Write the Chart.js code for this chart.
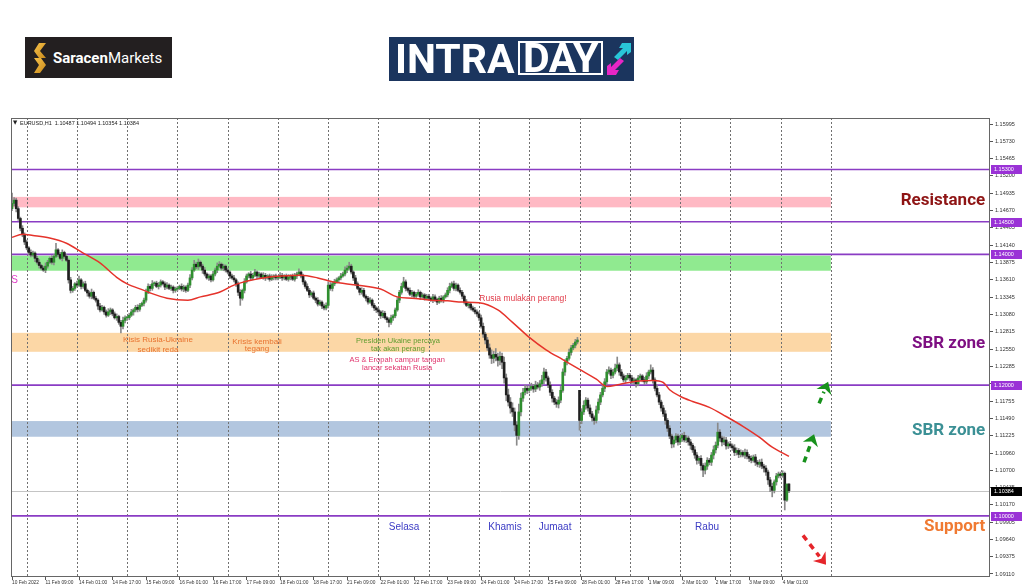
<!DOCTYPE html>
<html>
<head>
<meta charset="utf-8">
<script src="https://cdn.jsdelivr.net/npm/chart.js@4.4.0/dist/chart.umd.min.js"></script>
<style>
  html, body { margin:0; padding:0; background:#fff; width:1024px; height:587px; overflow:hidden; }
  #wrap { position:relative; width:1024px; height:587px; }
  #chart { position:absolute; left:0; top:0; }
  #saracen { position:absolute; left:25px; top:37px; width:147px; height:41px; background:#231f20;
             display:flex; align-items:center; box-sizing:border-box; padding-left:9px;
             font-family:Roboto, sans-serif; font-size:15px; color:#fff; }
  #saracen svg { margin-right:7px; }
  #saracen b { font-weight:700; }
  #intraday { position:absolute; left:389px; top:37px; width:245px; height:44px; background:#1b355e;
              font-family:Roboto, sans-serif; font-weight:700; color:#fff; }
  #intraday .intra { position:absolute; left:6px; top:0; font-size:41px; line-height:44px; letter-spacing:0px; }
  #intraday .day { position:absolute; left:129px; top:4px; height:34px; width:85px; box-sizing:border-box;
                   border:2.5px solid #fff; font-size:41px; line-height:31px; text-align:center; letter-spacing:-0.5px; }
  #intraday svg { position:absolute; left:217px; top:3px; }
</style>
</head>
<body>
<div id="wrap">
  <canvas id="chart" width="1024" height="587"></canvas>
  <div id="saracen">
    <svg width="12" height="30" viewBox="0 0 12 30">
      <defs><linearGradient id="gold" x1="0" y1="0" x2="1" y2="1">
        <stop offset="0" stop-color="#f7c24a"/><stop offset="1" stop-color="#c98a1c"/></linearGradient></defs>
      <polygon points="5,0 12,0 6,8 12,15 5,15 0,8" fill="url(#gold)"/>
      <polygon points="0,15 7,15 12,22 6,30 0,30 5,22" fill="url(#gold)"/>
    </svg>
    <b>Saracen</b><span>Markets</span>
  </div>
  <div id="intraday">
    <span class="intra">INTRA</span><span class="day">DAY</span>
    <svg width="26" height="38" viewBox="0 0 26 38">
      <polygon points="8,17 17,8 13,8 16,3 25,3 25,12 21,15 21,11 12,20" fill="#29c6d8"/>
      <polygon points="18,21 9,30 13,30 10,35 1,35 1,26 5,23 5,27 14,18" fill="#e726c6"/>
    </svg>
  </div>
</div>
<script>
// EURUSD H1, 10 Feb 17:00 -> 4 Mar 03:00 (2022), one entry per hourly bar
const closes = [
  1.1478, 1.1483, 1.1470, 1.1455, 1.1440, 1.1430, 1.1419,
  1.1410, 1.1403, 1.1399, 1.1402, 1.1394, 1.1388, 1.1383, 1.1379, 1.1376, 1.1382, 1.1388, 1.1394, 1.1388, 1.1397, 1.1407, 1.1400, 1.1394, 1.1403, 1.1397, 1.1391, 1.1361, 1.1345, 1.1348, 1.1355,
  1.1353, 1.1361, 1.1351, 1.1355, 1.1345, 1.1341, 1.1336, 1.1342, 1.1333, 1.1330, 1.1321, 1.1315, 1.1319, 1.1312, 1.1307, 1.1312, 1.1315, 1.1309, 1.1303, 1.1305, 1.1296, 1.1290, 1.1299, 1.1303,
  1.1303, 1.1307, 1.1312, 1.1315, 1.1319, 1.1316, 1.1322, 1.1325, 1.1330, 1.1342, 1.1351, 1.1348, 1.1355, 1.1356, 1.1351, 1.1353, 1.1358, 1.1355, 1.1350, 1.1353, 1.1348, 1.1350, 1.1345, 1.1347,
  1.1348, 1.1351, 1.1347, 1.1350, 1.1345, 1.1353, 1.1364, 1.1376, 1.1385, 1.1381, 1.1388, 1.1382, 1.1376, 1.1370, 1.1364, 1.1367, 1.1361, 1.1370, 1.1376, 1.1382, 1.1385, 1.1379, 1.1382, 1.1376,
  1.1373, 1.1367, 1.1364, 1.1361, 1.1355, 1.1342, 1.1333, 1.1345, 1.1358, 1.1367, 1.1370, 1.1364, 1.1368, 1.1373, 1.1367, 1.1370, 1.1365, 1.1368, 1.1364, 1.1367, 1.1362, 1.1365, 1.1367, 1.1364,
  1.1365, 1.1368, 1.1364, 1.1367, 1.1362, 1.1365, 1.1367, 1.1362, 1.1367, 1.1370, 1.1373, 1.1367, 1.1358, 1.1351, 1.1345, 1.1338, 1.1341, 1.1333, 1.1330, 1.1324, 1.1327, 1.1321, 1.1318, 1.1322,
  1.1353, 1.1348, 1.1355, 1.1358, 1.1361, 1.1364, 1.1367, 1.1370, 1.1376, 1.1379, 1.1382, 1.1373, 1.1364, 1.1355, 1.1348, 1.1342, 1.1345, 1.1336, 1.1333, 1.1327, 1.1330, 1.1322, 1.1318, 1.1315,
  1.1312, 1.1306, 1.1310, 1.1303, 1.1300, 1.1296, 1.1303, 1.1306, 1.1315, 1.1330, 1.1342, 1.1351, 1.1358, 1.1348, 1.1345, 1.1339, 1.1342, 1.1336, 1.1339, 1.1342, 1.1335, 1.1338, 1.1333, 1.1336,
  1.1333, 1.1330, 1.1335, 1.1331, 1.1327, 1.1333, 1.1330, 1.1335, 1.1338, 1.1345, 1.1351, 1.1355, 1.1348, 1.1353, 1.1345, 1.1342, 1.1336, 1.1327, 1.1322, 1.1324, 1.1318, 1.1315, 1.1312, 1.1309,
  1.1303, 1.1290, 1.1278, 1.1269, 1.1257, 1.1246, 1.1241, 1.1247, 1.1243, 1.1238, 1.1244, 1.1235, 1.1211, 1.1185, 1.1174, 1.1165, 1.1159, 1.1139, 1.1123, 1.1159, 1.1180, 1.1189, 1.1195, 1.1192,
  1.1195, 1.1198, 1.1194, 1.1200, 1.1197, 1.1202, 1.1208, 1.1220, 1.1211, 1.1200, 1.1189, 1.1180, 1.1174, 1.1171, 1.1177, 1.1192, 1.1220, 1.1235, 1.1241, 1.1250, 1.1257, 1.1261, 1.1266, 1.1269,
  1.1146, 1.1159, 1.1169, 1.1177, 1.1165, 1.1156, 1.1150, 1.1146, 1.1162, 1.1174, 1.1185, 1.1195, 1.1205, 1.1220, 1.1223, 1.1215, 1.1220, 1.1226, 1.1231, 1.1220, 1.1214, 1.1208, 1.1211, 1.1215,
  1.1211, 1.1205, 1.1208, 1.1202, 1.1211, 1.1214, 1.1208, 1.1205, 1.1214, 1.1220, 1.1223, 1.1208, 1.1195, 1.1185, 1.1174, 1.1165, 1.1156, 1.1146, 1.1134, 1.1122, 1.1110, 1.1116, 1.1122, 1.1113,
  1.1119, 1.1123, 1.1116, 1.1119, 1.1113, 1.1108, 1.1101, 1.1093, 1.1085, 1.1088, 1.1077, 1.1070, 1.1076, 1.1085, 1.1082, 1.1093, 1.1101, 1.1108, 1.1128, 1.1119, 1.1113, 1.1116, 1.1107, 1.1110,
  1.1107, 1.1104, 1.1097, 1.1100, 1.1094, 1.1097, 1.1093, 1.1097, 1.1091, 1.1088, 1.1085, 1.1090, 1.1082, 1.1079, 1.1082, 1.1076, 1.1073, 1.1067, 1.1055, 1.1045, 1.1039, 1.1052, 1.1061, 1.1064,
  1.1062, 1.1065, 1.1024, 1.10487, 1.10384
];
// upper / lower shadow length of each bar, in pips
const wickUp = [
  16,4,3,3,2,4,3,
  3,2,4,3,2,3,4,2,3,5,3,2,4,3,10,2,3,4,2,3,2,4,3,2,
  4,6,2,3,4,2,3,5,2,3,2,4,3,2,3,5,3,2,3,4,2,3,5,3,
  2,3,4,2,3,4,3,2,3,5,4,3,5,2,3,4,3,2,3,4,2,3,2,3,
  3,2,4,3,2,3,5,4,6,3,5,2,3,4,2,3,2,4,3,5,4,2,3,2,
  3,2,3,4,2,3,4,2,5,3,2,4,3,4,2,3,2,4,3,2,3,4,2,3,
  2,4,3,2,3,4,2,3,4,3,5,2,3,2,4,3,2,3,2,4,3,2,3,4,
  5,4,3,4,3,2,4,3,5,4,6,3,2,4,3,2,4,3,2,3,4,2,3,2,
  3,2,4,3,2,3,4,2,3,4,3,5,7,3,2,4,3,2,3,4,2,3,2,3,
  3,2,4,3,2,3,4,2,3,4,5,3,4,3,2,4,3,2,4,3,2,3,4,3,
  3,4,5,3,4,6,8,5,9,6,7,5,8,6,9,7,8,6,5,12,8,6,5,4,
  4,5,3,6,4,5,7,6,4,3,5,4,3,4,5,6,5,4,3,5,4,3,4,4,
  0,5,7,4,3,5,4,3,6,5,4,6,5,4,5,3,4,6,12,3,4,3,4,3,
  3,4,3,2,4,3,2,4,5,3,8,4,3,5,4,3,4,5,3,4,3,5,4,3,
  4,3,5,4,3,4,3,5,4,3,4,3,5,4,3,4,6,5,14,4,3,5,4,3,
  4,3,5,4,3,4,3,5,4,3,4,3,4,3,4,5,3,4,3,4,5,3,4,3,
  3,4,2,0,0.7
];
const wickDn = [
  3,4,5,3,4,3,4,
  3,4,3,2,5,3,4,3,2,4,3,2,3,4,2,3,2,4,3,2,5,4,3,3,
  3,2,4,3,2,5,3,4,2,3,5,3,2,4,3,2,4,3,2,4,3,10,4,4,
  4,3,2,5,3,4,3,2,4,3,2,4,3,3,2,4,3,2,4,3,2,3,4,3,
  3,2,3,4,3,2,4,3,2,3,4,2,5,3,2,4,3,2,3,4,2,3,4,3,
  3,4,2,3,4,5,11,3,4,2,3,4,3,2,4,3,2,3,4,2,3,2,4,3,
  3,2,4,3,2,3,4,2,3,4,2,3,4,3,2,4,3,2,4,3,2,4,3,3,
  4,3,4,3,2,4,3,2,3,4,2,3,4,3,2,4,3,2,4,3,2,3,4,4,
  3,4,3,2,4,7,3,4,3,2,4,3,2,4,3,2,4,3,2,3,4,2,3,2,
  3,2,4,3,4,2,3,4,2,3,4,2,3,4,2,3,4,3,2,4,3,2,3,4,
  4,3,5,6,4,5,8,7,6,9,7,10,8,9,6,8,7,9,15,6,6,5,4,5,
  4,3,5,4,3,5,4,6,5,4,5,6,4,5,6,4,3,5,4,3,4,3,4,3,
  15,5,4,6,5,4,5,6,4,5,4,3,5,4,3,5,4,3,4,5,4,3,4,3,
  4,3,4,5,3,4,3,4,3,4,3,5,4,3,4,5,4,6,5,4,6,5,4,5,
  4,5,3,4,5,6,4,5,6,5,7,10,6,5,4,5,6,5,4,5,6,4,5,4,
  3,4,5,4,5,4,3,5,4,5,4,3,5,4,5,4,6,5,7,8,10,4,5,3,
  4,3,15,2,3
];
// bars whose open is not the previous close (first bar, weekend gap of 28 Feb)
const gapBars  = [0, 271];
const gapOpens = [1.1470, 1.1192];

// red moving average
const maBars   = [0,5,10,18,26,34,42,50,55,63,66,74,84,90,99,106,115,122,129,138,146,153,165,176,184,191,200,208,215,223,232,239,247,255,263,271,279,284,290,298,306,311,314,319,325,333,341,349,357,363,371];
const maValues = [1.1426,1.1431,1.1429,1.1425,1.1417,1.1402,1.1387,1.1365,1.1355,1.1345,1.1341,1.1333,1.1330,1.1335,1.1342,1.1353,1.1361,1.1365,1.1367,1.1368,1.1364,1.1358,1.1353,1.1347,1.1335,1.1333,1.1330,1.1329,1.1327,1.1326,1.1315,1.1296,1.1273,1.1254,1.1239,1.1224,1.1209,1.1198,1.1201,1.1206,1.1207,1.1204,1.1193,1.1183,1.1175,1.1166,1.1152,1.1137,1.1120,1.1105,1.1091];

// horizontal levels and zones
const levelPrices = [1.1530, 1.1450, 1.1400, 1.1200, 1.1000];
const zoneLow     = [1.1472, 1.1375, 1.1251, 1.1121];
const zoneHigh    = [1.1488, 1.1398, 1.1280, 1.1145];
const zoneEndBar  = 391;
const lastPrice   = 1.10384;

// axes
const priceTicks = [1.15995,1.15730,1.15465,1.15200,1.14935,1.14670,1.14405,1.14140,1.13875,1.13610,1.13345,1.13080,1.12815,1.12550,1.12285,1.12020,1.11755,1.11490,1.11225,1.10960,1.10700,1.10435,1.10170,1.09905,1.09640,1.09375,1.09110];
const timeLabelBars = [0,16,32,48,64,80,96,112,128,144,160,176,192,208,224,240,256,272,288,304,320,336,352,368];
const timeLabels = ['10 Feb 2022','11 Feb 09:00','14 Feb 01:00','14 Feb 17:00','15 Feb 09:00','16 Feb 01:00','16 Feb 17:00','17 Feb 09:00','18 Feb 01:00','18 Feb 17:00','21 Feb 09:00','22 Feb 01:00','22 Feb 17:00','23 Feb 09:00','24 Feb 01:00','24 Feb 17:00','25 Feb 09:00','28 Feb 01:00','28 Feb 17:00','1 Mar 09:00','2 Mar 01:00','2 Mar 17:00','3 Mar 09:00','4 Mar 01:00'];
const dayBars = [7,31,55,79,103,127,151,175,199,223,247,271,295,319,343,367,391];

// ─── styles ──────────────────────────────────────────
const BULL = '#2f8f2f', BEAR = '#202020', WICK = '#8a8a8a';
const ZONE_COLORS = ['#ffb9c4', '#90ea90', '#fcd7a6', '#b2c6df'];
const LEVEL_COLOR = '#8a3cc4';

const notes = [
  { bar: 69.7,  price: 1.1269, text: 'Kisis Rusia-Ukraine',       color: '#e8722e', size: 8 },
  { bar: 69.7,  price: 1.1254, text: 'sedikit reda',              color: '#e8722e', size: 8 },
  { bar: 117,   price: 1.1267, text: 'Krisis kembali',            color: '#e8722e', size: 8 },
  { bar: 117,   price: 1.1255, text: 'tegang',                    color: '#e8722e', size: 8 },
  { bar: 184.3, price: 1.1267, text: 'Presiden Ukaine percaya',   color: '#5f9c2e', size: 7.5 },
  { bar: 184.3, price: 1.1255, text: 'tak akan perang',           color: '#5f9c2e', size: 7.5 },
  { bar: 183.9, price: 1.1238, text: 'AS & Eropah campur tangan', color: '#e0336c', size: 7.5 },
  { bar: 183.9, price: 1.1226, text: 'lancar sekatan Rusia',      color: '#e0336c', size: 7.5 },
  { bar: 244,   price: 1.1332, text: 'Rusia mulakan perang!',     color: '#e23c4a', size: 8.5 },
  { bar: 187.2, price: 1.0983, text: 'Selasa', color: '#3b3bc4', size: 10 },
  { bar: 235.4, price: 1.0983, text: 'Khamis', color: '#3b3bc4', size: 10 },
  { bar: 259.3, price: 1.0983, text: 'Jumaat', color: '#3b3bc4', size: 10 },
  { bar: 331.9, price: 1.0983, text: 'Rabu',   color: '#3b3bc4', size: 10 },
  { bar: 1.2,   price: 1.1361, text: 'S',      color: '#e040c8', size: 10 }
];
const bigLabels = [
  { price: 1.1482, text: 'Resistance', color: '#8e1414' },
  { price: 1.1263, text: 'SBR zone',   color: '#7e0f82' },
  { price: 1.1130, text: 'SBR zone',   color: '#3b9095' },
  { price: 1.0983, text: 'Support',    color: '#f07a32' }
];
const bigLabelRightBar = 464.7;
const arrows = [
  { from: [385.4, 1.1172], to: [389.7, 1.1205], color: '#17911c' },
  { from: [378.2, 1.1082], to: [383.0, 1.1125], color: '#17911c' },
  { from: [377.7, 1.0970], to: [388.7, 1.0925], color: '#e5252a' }
];

// ─── build OHLC ──────────────────────────────────────
const PIP = 0.0001;
const opens = closes.map((c, i) => {
  const g = gapBars.indexOf(i);
  return g >= 0 ? gapOpens[g] : closes[i - 1];
});
const wickData = closes.map((c, i) => ({
  x: i, y: [Math.min(opens[i], c) - wickDn[i] * PIP, Math.max(opens[i], c) + wickUp[i] * PIP]
}));
const bodyData = closes.map((c, i) => ({ x: i, y: [Math.min(opens[i], c), Math.max(opens[i], c)] }));
const bodyColors = closes.map((c, i) => (c >= opens[i] ? BULL : BEAR));
const maData = maBars.map((b, k) => ({ x: b, y: maValues[k] }));

function drawArrow(ctx, x0, y0, x1, y1, color) {
  const ang = Math.atan2(y1 - y0, x1 - x0);
  const headLen = 11, headW = 8;
  const bx = x1 - Math.cos(ang) * headLen * 0.7, by = y1 - Math.sin(ang) * headLen * 0.7;
  ctx.save();
  ctx.strokeStyle = color; ctx.fillStyle = color;
  ctx.lineWidth = 3.5; ctx.setLineDash([6, 5]); ctx.lineCap = 'butt';
  ctx.beginPath(); ctx.moveTo(x0, y0); ctx.lineTo(bx - Math.cos(ang) * 3, by - Math.sin(ang) * 3); ctx.stroke();
  ctx.setLineDash([]);
  const px = -Math.sin(ang), py = Math.cos(ang);
  const hx = x1 - Math.cos(ang) * headLen, hy = y1 - Math.sin(ang) * headLen;
  ctx.beginPath();
  ctx.moveTo(x1, y1);
  ctx.lineTo(hx + px * headW, hy + py * headW);
  ctx.lineTo(bx, by);
  ctx.lineTo(hx - px * headW, hy - py * headW);
  ctx.closePath(); ctx.fill();
  ctx.restore();
}

const overlay = {
  id: 'overlay',
  beforeDatasetsDraw(chart) {
    const { ctx, chartArea: a, scales: { x, y } } = chart;
    ctx.save();
    ctx.beginPath(); ctx.rect(a.left, a.top, a.width, a.height); ctx.clip();

    // zones
    const xEnd = x.getPixelForValue(zoneEndBar);
    zoneLow.forEach((lo, k) => {
      const yTop = y.getPixelForValue(zoneHigh[k]), yBot = y.getPixelForValue(lo);
      ctx.fillStyle = ZONE_COLORS[k];
      ctx.fillRect(a.left, yTop, xEnd - a.left, yBot - yTop);
    });

    // day separators
    ctx.strokeStyle = '#707070'; ctx.lineWidth = 1; ctx.setLineDash([2, 2]);
    dayBars.forEach(b => {
      const px = Math.round(x.getPixelForValue(b)) + 0.5;
      ctx.beginPath(); ctx.moveTo(px, a.top); ctx.lineTo(px, a.bottom); ctx.stroke();
    });
    ctx.setLineDash([]);

    // last price line
    const lp = Math.round(y.getPixelForValue(lastPrice)) + 0.5;
    ctx.strokeStyle = '#c4c4c4'; ctx.lineWidth = 1;
    ctx.beginPath(); ctx.moveTo(a.left, lp); ctx.lineTo(a.right, lp); ctx.stroke();

    // level lines
    ctx.strokeStyle = LEVEL_COLOR; ctx.lineWidth = 1.6;
    levelPrices.forEach(p => {
      const py = y.getPixelForValue(p);
      ctx.beginPath(); ctx.moveTo(a.left, py); ctx.lineTo(a.right, py); ctx.stroke();
    });
    ctx.restore();
  },
  afterDatasetsDraw(chart) {
    const { ctx, chartArea: a, scales: { x, y } } = chart;
    ctx.save();
    ctx.textAlign = 'center'; ctx.textBaseline = 'middle';
    notes.forEach(n => {
      ctx.font = n.size + "px 'Liberation Sans', Arial, sans-serif";
      ctx.fillStyle = n.color;
      ctx.fillText(n.text, x.getPixelForValue(n.bar), y.getPixelForValue(n.price));
    });

    ctx.textAlign = 'right';
    ctx.font = "700 17px Roboto, sans-serif";
    bigLabels.forEach(l => {
      ctx.fillStyle = l.color;
      ctx.fillText(l.text, x.getPixelForValue(bigLabelRightBar), y.getPixelForValue(l.price));
    });

    arrows.forEach(ar => drawArrow(ctx,
      x.getPixelForValue(ar.from[0]), y.getPixelForValue(ar.from[1]),
      x.getPixelForValue(ar.to[0]),   y.getPixelForValue(ar.to[1]), ar.color));

    // symbol caption
    ctx.textAlign = 'left'; ctx.textBaseline = 'middle';
    ctx.fillStyle = '#222';
    ctx.font = "5.5px 'DejaVu Sans', sans-serif";
    ctx.fillText('\u25BC', a.left + 2, a.top + 5);
    ctx.font = "5.5px 'Liberation Sans', Arial, sans-serif";
    ctx.fillText('EURUSD,H1  1.10487 1.10494 1.10354 1.10384', a.left + 9, a.top + 5);
    ctx.restore();
  },
  afterDraw(chart) {
    const { ctx, chartArea: a, scales: { y } } = chart;
    ctx.save();
    ctx.strokeStyle = '#666'; ctx.lineWidth = 1;
    ctx.strokeRect(a.left + 0.5, a.top + 0.5, a.width - 1, a.height - 1);

    // price boxes on the right axis
    ctx.font = "5.5px 'Liberation Sans', Arial, sans-serif";
    ctx.textAlign = 'left'; ctx.textBaseline = 'middle';
    const box = (p, bg) => {
      const py = Math.round(y.getPixelForValue(p));
      ctx.fillStyle = bg;
      ctx.fillRect(a.right + 1, py - 4, 31, 9);
      ctx.fillStyle = '#fff';
      ctx.fillText(p.toFixed(5), a.right + 4, py + 0.5);
    };
    levelPrices.forEach(p => box(p, '#9a32d6'));
    box(lastPrice, '#000');
    ctx.restore();
  }
};

new Chart(document.getElementById('chart'), {
  type: 'bar',
  data: {
    datasets: [
      { type: 'bar', data: wickData, backgroundColor: WICK, barThickness: 1, grouped: false, order: 3 },
      { type: 'bar', data: bodyData, backgroundColor: bodyColors, barThickness: 2, minBarLength: 1, grouped: false, order: 2 },
      { type: 'line', data: maData, borderColor: '#e5332b', borderWidth: 1.5, pointRadius: 0,
        cubicInterpolationMode: 'monotone', fill: false, order: 1 }
    ]
  },
  options: {
    responsive: false,
    animation: false,
    devicePixelRatio: 1,
    layout: { padding: { left: 11, top: 118, right: 0, bottom: 0 } },
    plugins: { legend: { display: false }, tooltip: { enabled: false } },
    scales: {
      x: {
        type: 'linear', min: -0.48, max: 467, offset: false,
        grid: { display: true, drawOnChartArea: false, offset: false, tickLength: 3, color: '#555' },
        border: { display: false },
        afterBuildTicks: s => { s.ticks = timeLabelBars.map(v => ({ value: v })); },
        afterFit: s => { s.height = 10; },
        ticks: {
          autoSkip: false, maxRotation: 0, align: 'start', padding: 0, color: '#333',
          font: { size: 4.8, family: "'Liberation Sans', Arial, sans-serif" },
          callback: v => timeLabels[timeLabelBars.indexOf(v)]
        }
      },
      y: {
        type: 'linear', position: 'right', min: 1.09064, max: 1.16087,
        grid: { display: true, drawOnChartArea: false, tickLength: 3, color: '#555' },
        border: { display: false },
        afterBuildTicks: s => { s.ticks = priceTicks.map(v => ({ value: v })); },
        afterFit: s => { s.width = 34; },
        ticks: {
          padding: 2, color: '#333',
          font: { size: 5.5, family: "'Liberation Sans', Arial, sans-serif" },
          callback: v => v.toFixed(5)
        }
      }
    }
  },
  plugins: [overlay]
});
</script>
</body>
</html>
